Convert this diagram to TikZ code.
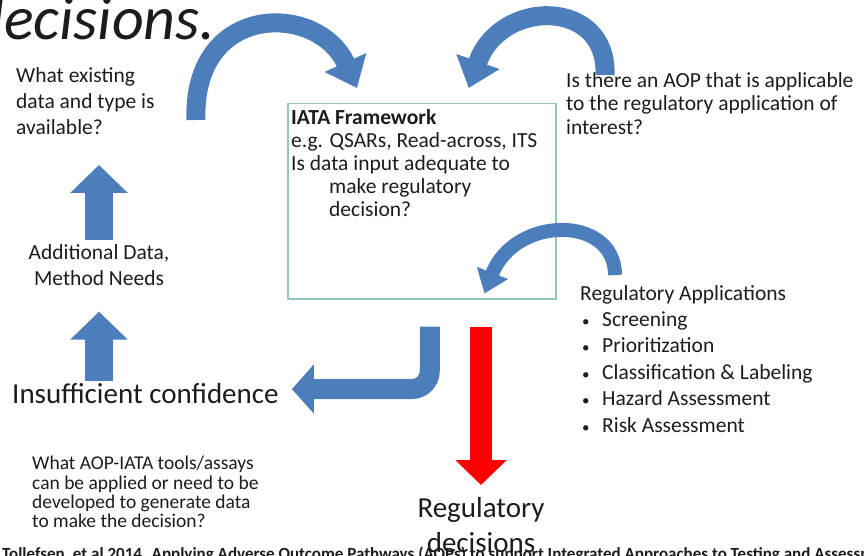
\documentclass[tikz,border=0pt]{standalone}
\usepackage{fontspec}
\setmainfont{Carlito}
\usetikzlibrary{arrows.meta,positioning,calc}
\definecolor{arrowblue}{RGB}{76,126,187}
\definecolor{boxteal}{RGB}{150,196,196}
\definecolor{inkgray}{RGB}{28,28,28}
\newcommand{\appbullet}{\makebox[22pt][l]{\hspace{2pt}{\fontsize{15}{15}\selectfont\textbullet}}}

\begin{document}
\begin{tikzpicture}[x=1pt, y=1pt,
  every node/.style={text=inkgray, inner sep=0pt},
  titletext/.style={font=\fontsize{62}{62}\selectfont\itshape},
  bodytext/.style={font=\fontsize{21.5}{26}\selectfont, align=left},
  boxtext/.style={font=\fontsize{21.5}{23}\selectfont, align=left},
  bigtext/.style={font=\fontsize{29}{35}\selectfont},
  smalltext/.style={font=\fontsize{19.5}{19.4}\selectfont, align=left},
  iatabox/.style={draw=boxteal, line width=1.5pt, minimum width=268pt,
                  minimum height=195pt},
  uparrow/.style={draw=arrowblue, line width=28pt,
                  -{Triangle[width=56pt,length=28pt]}},
  bendarrow/.style={draw=arrowblue, line width=20pt, rounded corners=18pt,
                    -{Triangle[width=48pt,length=22pt]}},
  curvearrow/.style={draw=arrowblue, line width=19pt,
                     -{Triangle[width=44pt,length=28pt]}},
  smallcurve/.style={draw=arrowblue, line width=14pt,
                     -{Triangle[width=32pt,length=22pt]}},
  redarrow/.style={draw=red, line width=22pt,
                   -{Triangle[width=50pt,length=25pt]}},
]
\clip (0,0) rectangle (864,-556);

\node[titletext, anchor=base west] (title) at (-28,-40) {decisions.};

% left column
\node[bodytext, anchor=north west] (exist) at (16,-67)
  {What existing\\data and type is\\available?};
\node[bodytext, align=center, anchor=north] (addl) at (99,-244)
  {Additional Data,\\Method Needs};
\node[bigtext, anchor=base west] (confid) at (12,-403)
  {Insufficient confidence};
\node[smalltext, anchor=north west] (tools) at (32,-456)
  {What AOP-IATA tools/assays\\can be applied or need to be\\
   developed to generate data\\to make the decision?};

% IATA box
\node[iatabox, anchor=north west] (iata) at (287,-103) {};
\node[boxtext, anchor=north west] (iatatext) at (291,-109)
  {\textbf{IATA Framework}\\e.g. QSARs, Read-across, ITS\\
   Is data input adequate to\\\hspace*{38pt}make regulatory\\
   \hspace*{38pt}decision?};

% right column
\node[boxtext, font=\fontsize{21.5}{23.5}\selectfont, anchor=north west]
  (aopq) at (566,-72)
  {Is there an AOP that is applicable\\to the regulatory application of\\
   interest?};
\node[bodytext, font=\fontsize{21.5}{26.4}\selectfont, anchor=north west]
  (regapp) at (580,-285)
  {Regulatory Applications\\\appbullet Screening\\\appbullet Prioritization\\
   \appbullet Classification \& Labeling\\\appbullet Hazard Assessment\\
   \appbullet Risk Assessment};
\node[bigtext, align=center, anchor=north] (regdec) at (481,-497)
  {Regulatory\\decisions};

\node[font=\fontsize{17}{17}\selectfont\bfseries, anchor=base west] (cite)
  at (2,-559) {Tollefsen, et al 2014. Applying Adverse Outcome Pathways
  (AOPs) to support Integrated Approaches to Testing and Assessment (IATA)};

% arrow ends
\coordinate (tlstart) at (196,-120);
\coordinate (tlend) at ($(iata.north west)+(70,15)$);
\coordinate (trstart) at (605,-75);
\coordinate (trend) at ($(iata.north)+(47,15)$);
\coordinate (brstart) at (615,-275);
\coordinate (brend) at ($(iata.south east)+(-72,6)$);

\draw[curvearrow] (tlstart) .. controls (192,-2) and (318,-2) .. (tlend);
\draw[curvearrow] (trstart) .. controls (608,2) and (500,2) .. (trend);
\draw[smallcurve] (brstart) .. controls (615,-215) and (515,-215) .. (brend);

\draw[uparrow] ($(addl.north)+(0,4)$) -- ++(0,75);
\draw[uparrow] ($(confid.north -| addl.north)+(0,2)$) -- ++(0,69);
\draw[bendarrow] ($(iata.south)+(8,-27)$) |- ($(confid.east)+(13,4)$);
\draw[redarrow] ($(iata.south -| regdec.north)+(0,-27)$)
  -- ($(regdec.north)+(0,12)$);
\end{tikzpicture}
\end{document}
